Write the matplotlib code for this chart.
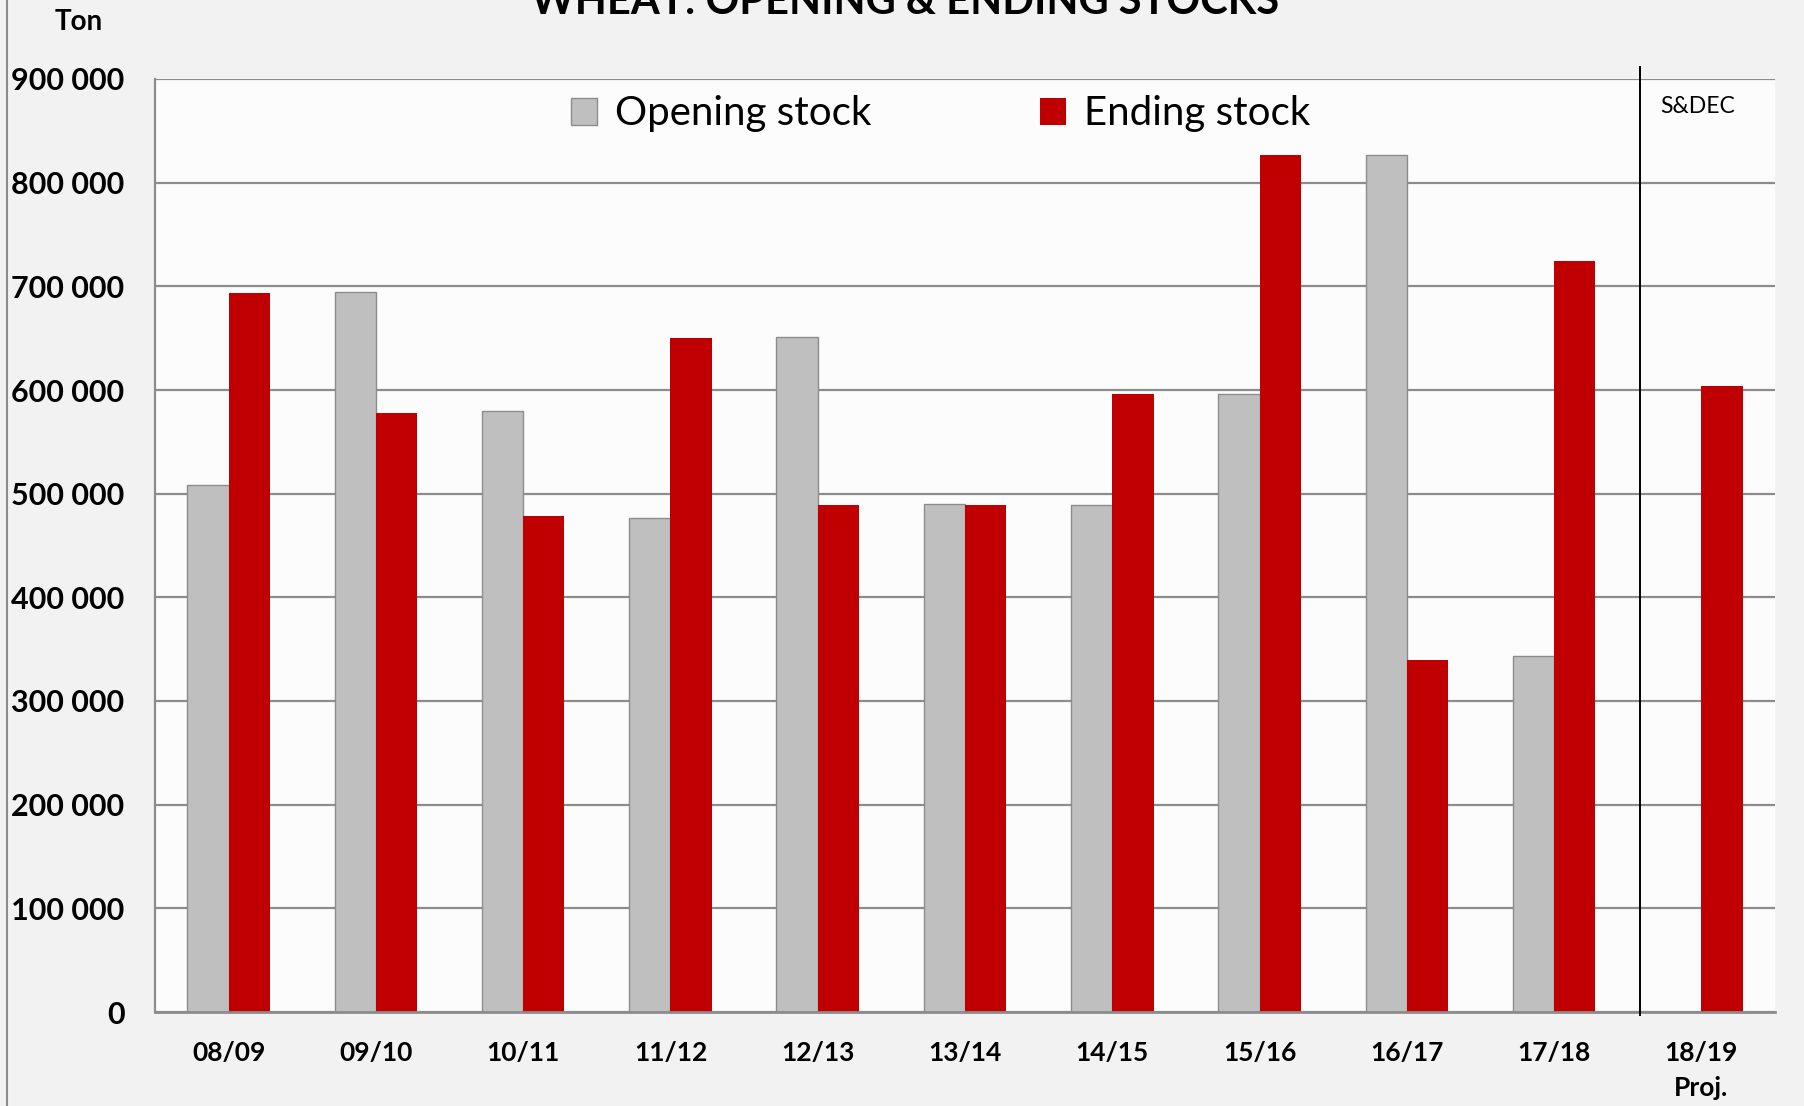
import matplotlib
matplotlib.use("Agg")
import matplotlib.pyplot as plt
from matplotlib.lines import Line2D
from matplotlib.patches import Patch

# ---- data ----
categories = ["08/09", "09/10", "10/11", "11/12", "12/13", "13/14", "14/15",
              "15/16", "16/17", "17/18", "18/19\nProj."]
opening_stock = [508000, 695000, 580000, 477000, 651000, 490000, 489000,
                 596000, 827000, 343000, None]
ending_stock = [694000, 578000, 478000, 650000, 489000, 489000, 596000,
                827000, 340000, 724000, 604000]
y_ticks = [0, 100000, 200000, 300000, 400000, 500000, 600000, 700000, 800000, 900000]
y_tick_labels = ["0", "100 000", "200 000", "300 000", "400 000", "500 000",
                 "600 000", "700 000", "800 000", "900 000"]

FONT = "Lato"
plt.rcParams["font.family"] = [FONT, "DejaVu Sans"]

W, H = 1804, 1106
fig = plt.figure(figsize=(W / 100, H / 100), dpi=100, facecolor="#F2F2F2")
ax = fig.add_axes([155 / W, (H - 1012) / H, (1775 - 155) / W, (1012 - 79) / H])
ax.set_facecolor("#FCFCFC")

x = list(range(len(categories)))
bw = 0.28
grey_color = "#BFBFBF"
red_color = "#C00000"

ox = [i for i, v in zip(x, opening_stock) if v is not None]
ov = [v for v in opening_stock if v is not None]
ax.bar([i - bw for i in ox], ov, width=bw, align="edge", color=grey_color,
       edgecolor="#8C8C8C", linewidth=1.0, zorder=3)
ax.bar(x, ending_stock, width=bw, align="edge", color=red_color,
       edgecolor="none", zorder=3)

ax.set_xlim(-0.5, len(categories) - 0.5)
ax.set_ylim(0, 900000)
ax.set_yticks(y_ticks)
ax.set_yticklabels(y_tick_labels, fontsize=22, fontweight="bold")
ax.set_xticks(x)
ax.set_xticklabels(categories, fontsize=19, fontweight="bold", linespacing=1.55)
ax.tick_params(axis="y", length=0, pad=22)
ax.tick_params(axis="x", length=0, pad=21)

ax.grid(axis="y", color="#8C8C8C", linewidth=1.6, zorder=1)
ax.set_axisbelow(True)
for s in ["top", "right"]:
    ax.spines[s].set_visible(False)
ax.spines["left"].set_color("#8C8C8C")
ax.spines["left"].set_linewidth(1.6)
ax.spines["bottom"].set_color("#8C8C8C")
ax.spines["bottom"].set_linewidth(2.0)
ax.spines["bottom"].set_zorder(4)

# separator line before projection
sep = 9.58
ax.plot([sep, sep], [-3000, 912000], color="black", linewidth=1.4,
        clip_on=False, zorder=5)
ax.text(0.952, 0.970, "S&DEC", transform=ax.transAxes, fontsize=16.5,
        ha="center", va="center")

# legend
handles = [Patch(facecolor=grey_color, edgecolor="#8C8C8C", linewidth=1.0),
           Patch(facecolor=red_color, edgecolor="none")]
leg = ax.legend(handles, ["Opening stock", "Ending stock"], ncol=2,
                loc="center", bbox_to_anchor=(0.485, 1 - (114 - 79) / 933),
                frameon=False, fontsize=29, handlelength=0.63, handleheight=0.63,
                handletextpad=0.45, columnspacing=4.2)

# title (cut off at top, as in the source) and unit label
fig.text(905 / W, (H - 14) / H, "WHEAT: OPENING & ENDING STOCKS", fontsize=30,
         fontweight="bold", ha="center", va="baseline")
fig.text(79 / W, (H - 22) / H, "Ton", fontsize=20, fontweight="bold",
         ha="center", va="center")

# left figure border
fig.add_artist(Line2D([6.5 / W, 6.5 / W], [0, 1], color="#8C8C8C", linewidth=1.5))

fig.savefig("out.png", dpi=100, facecolor=fig.get_facecolor())
